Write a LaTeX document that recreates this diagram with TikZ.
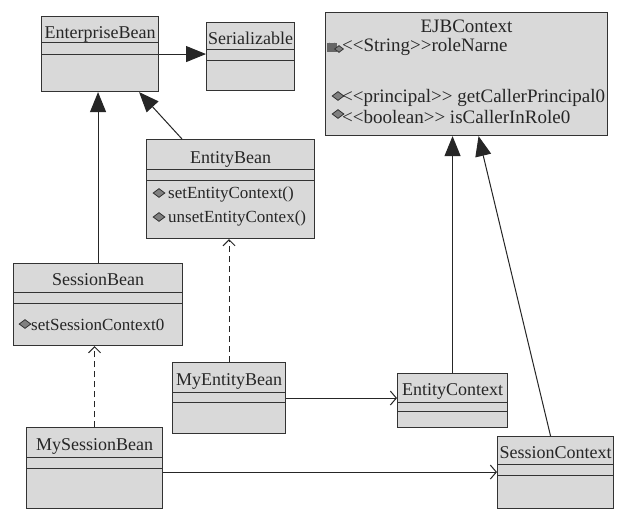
\documentclass[tikz,border=0pt]{standalone}
\usepackage{fontspec}
\setmainfont{Liberation Serif}[Ligatures=NoCommon]
\usetikzlibrary{arrows.meta,shapes.geometric}
\newcommand\lt{{<}}
\newcommand\gt{{>}}
\begin{document}
\begin{tikzpicture}[x=1pt,y=-1pt,
 box/.style={draw=black!80, line width=1.1pt, fill=black!15, anchor=north west, inner sep=0pt},
 sep/.style={draw=black!80, line width=1pt},
 title/.style={font=\fontsize{18}{18}\selectfont, inner sep=0pt, anchor=base, text=black!85},
 member/.style={font=\fontsize{17}{17}\selectfont, inner sep=0pt, anchor=west, text=black!85},
 ejbtext/.style={font=\fontsize{19}{19}\selectfont, inner sep=0pt, anchor=west, text=black!85},
 dia/.style={diamond, draw=black!80, fill=black!50, minimum width=12pt, minimum height=9pt, inner sep=0pt, line width=0.8pt},
 gen/.style={draw=black!85, line width=1pt, -{Triangle[length=20pt,width=16pt]}},
 real/.style={draw=black!85, line width=1pt, dash pattern=on 6pt off 4pt, -{Straight Barb[length=6pt,width=12pt]}},
 assoc/.style={draw=black!85, line width=1pt, -{Straight Barb[length=6pt,width=14pt]}},
]
\useasboundingbox (0,0) rectangle (620,511);
\fill[white] (0,0) rectangle (620,511);

% EnterpriseBean
\node[box, minimum width=117pt, minimum height=75pt] (eb) at (41,16) {};
\draw[sep] ([yshift=-27pt]eb.north west) -- ([yshift=-27pt]eb.north east);
\draw[sep] ([yshift=-38pt]eb.north west) -- ([yshift=-38pt]eb.north east);
\node[title] (ebt) at ([yshift=-22pt]eb.north) {EnterpriseBean};

% Serializable
\node[box, minimum width=88pt, minimum height=68pt] (ser) at (206,22) {};
\draw[sep] ([yshift=-28pt]ser.north west) -- ([yshift=-28pt]ser.north east);
\draw[sep] ([yshift=-38pt]ser.north west) -- ([yshift=-38pt]ser.north east);
\node[title] (sert) at ([yshift=-23pt]ser.north) {Serializable};

% EJBContext
\node[box, minimum width=282pt, minimum height=123pt] (ejb) at (325,12) {};
\node[title, font=\fontsize{19}{19}\selectfont] (ejbt) at ([yshift=-21pt]ejb.north) {EJBContext};
\fill[black!60] (327,43) rectangle (337,52);
\draw[black!60, line width=1.4pt] (329,43) arc[start angle=180, end angle=0, radius=3];
\node[dia, minimum width=9pt, minimum height=7pt] (d0) at (339,49) {};
\node[ejbtext] (ejb1) at (342,47) {\lt\lt String\gt\gt roleNarne};
\node[dia] (d1) at (338,96) {};
\node[ejbtext] (ejb2) at (342,98) {\lt\lt principal\gt\gt{} getCallerPrincipal0};
\node[dia] (d2) at (338,114) {};
\node[ejbtext] (ejb3) at (342,117) {\lt\lt boolean\gt\gt{} isCallerInRole0};

% EntityBean
\node[box, minimum width=168pt, minimum height=99pt] (entb) at (146,139) {};
\draw[sep] ([yshift=-30pt]entb.north west) -- ([yshift=-30pt]entb.north east);
\draw[sep] ([yshift=-41pt]entb.north west) -- ([yshift=-41pt]entb.north east);
\node[title] (entbt) at ([yshift=-24pt]entb.north) {EntityBean};
\node[dia] (d3) at (159,193) {};
\node[member] (entb1) at (168,194) {setEntityContext()};
\node[dia] (d4) at (159,217) {};
\node[member] (entb2) at (168,218) {unsetEntityContex()};

% SessionBean
\node[box, minimum width=169pt, minimum height=82pt] (sb) at (13,263) {};
\draw[sep] ([yshift=-29pt]sb.north west) -- ([yshift=-29pt]sb.north east);
\draw[sep] ([yshift=-40pt]sb.north west) -- ([yshift=-40pt]sb.north east);
\node[title] (sbt) at ([yshift=-22pt]sb.north) {SessionBean};
\node[dia] (d5) at (25,324) {};
\node[member] (sb1) at (31,325) {setSessionContext0};

% MySessionBean
\node[box, minimum width=136pt, minimum height=81pt] (msb) at (26,427) {};
\draw[sep] ([yshift=-30pt]msb.north west) -- ([yshift=-30pt]msb.north east);
\draw[sep] ([yshift=-41pt]msb.north west) -- ([yshift=-41pt]msb.north east);
\node[title] (msbt) at ([yshift=-23pt]msb.north) {MySessionBean};

% MyEntityBean
\node[box, minimum width=113pt, minimum height=71pt] (meb) at (172,362) {};
\draw[sep] ([yshift=-30pt]meb.north west) -- ([yshift=-30pt]meb.north east);
\draw[sep] ([yshift=-40pt]meb.north west) -- ([yshift=-40pt]meb.north east);
\node[title] (mebt) at ([yshift=-23pt]meb.north) {MyEntityBean};

% EntityContext
\node[box, minimum width=110pt, minimum height=54pt] (ec) at (397,373) {};
\draw[sep] ([yshift=-29pt]ec.north west) -- ([yshift=-29pt]ec.north east);
\draw[sep] ([yshift=-38pt]ec.north west) -- ([yshift=-38pt]ec.north east);
\node[title] (ect) at ([yshift=-22pt]ec.north) {EntityContext};

% SessionContext
\node[box, minimum width=116pt, minimum height=72pt] (sc) at (497,436) {};
\draw[sep] ([yshift=-28pt]sc.north west) -- ([yshift=-28pt]sc.north east);
\draw[sep] ([yshift=-39pt]sc.north west) -- ([yshift=-39pt]sc.north east);
\node[title] (sct) at ([yshift=-22pt]sc.north) {SessionContext};

% connectors
\draw[gen] (eb.east) -- (eb.east -| ser.west);
\draw[gen] ([xshift=36pt]entb.north west) -- ([xshift=-20pt]eb.south east);
\draw[gen] (sb.north) -- (sb.north |- eb.south);
\draw[real] (msb.north) -- (msb.north |- sb.south);
\draw[real] (meb.north) -- (meb.north |- entb.south);
\draw[assoc] (meb.east) -- (meb.east -| ec.west);
\draw[assoc] ([yshift=-4pt]msb.east) -- ([yshift=-4pt]msb.east -| sc.west);
\draw[gen] (ec.north) -- (ec.north |- ejb.south);
\draw[gen] ([xshift=-5pt]sc.north) -- ([xshift=12pt]ejb.south);
\end{tikzpicture}
\end{document}
